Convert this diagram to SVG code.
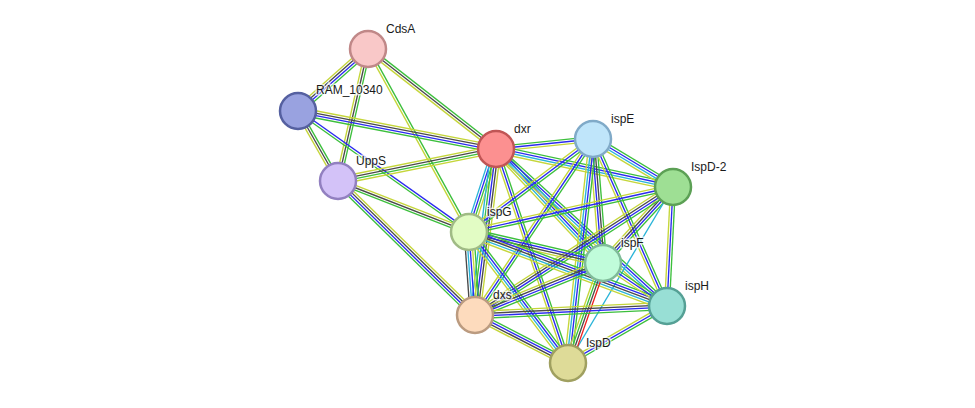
<svg xmlns="http://www.w3.org/2000/svg" width="975" height="408" viewBox="0 0 975 408">
<style>
line{stroke-width:1.35;fill:none}
.g{stroke:#3cbf3c}.y{stroke:#c5d63a}.b{stroke:#2a2af0}.k{stroke:#4a4a4a}.c{stroke:#2ab4d8}.r{stroke:#ee2020}
.node circle{stroke-width:2.5}
.node text{font-family:"Liberation Sans",Arial,sans-serif;font-size:12px;fill:#1a1a1a;stroke:#fff;stroke-width:3;stroke-opacity:0.7;paint-order:stroke}
</style>
<rect width="975" height="408" fill="#fff"/>
<g id="edges">
<g transform="translate(368 49) rotate(138.5)"><line class="g" x2="93.5" y1="-3.6" y2="-3.6"/><line class="b" x2="93.5" y1="-1.2" y2="-1.2"/><line class="k" x2="93.5" y1="1.2" y2="1.2"/><line class="y" x2="93.5" y1="3.6" y2="3.6"/></g>
<g transform="translate(368 49) rotate(102.8)"><line class="g" x2="135.4" y1="-2.4" y2="-2.4"/><line class="k" x2="135.4"/><line class="y" x2="135.4" y1="2.4" y2="2.4"/></g>
<g transform="translate(368 49) rotate(38)"><line class="g" x2="162.4" y1="-2.4" y2="-2.4"/><line class="k" x2="162.4"/><line class="y" x2="162.4" y1="2.4" y2="2.4"/></g>
<g transform="translate(368 49) rotate(61.1)"><line class="g" x2="209" y1="-1.2" y2="-1.2"/><line class="y" x2="209" y1="1.2" y2="1.2"/></g>
<g transform="translate(298 111) rotate(60.3)"><line class="g" x2="80.6" y1="-2.4" y2="-2.4"/><line class="k" x2="80.6"/><line class="y" x2="80.6" y1="2.4" y2="2.4"/></g>
<g transform="translate(298 111) rotate(10.9)"><line class="y" x2="201.6" y1="-3.6" y2="-3.6"/><line class="k" x2="201.6" y1="-1.2" y2="-1.2"/><line class="b" x2="201.6" y1="1.2" y2="1.2"/><line class="g" x2="201.6" y1="3.6" y2="3.6"/></g>
<g transform="translate(298 111) rotate(35.3)"><line class="b" x2="209.5" y1="-1.2" y2="-1.2"/><line class="g" x2="209.5" y1="1.2" y2="1.2"/></g>
<g transform="translate(338 181) rotate(-11.4)"><line class="y" x2="161.2" y1="-3.6" y2="-3.6"/><line class="k" x2="161.2" y1="-1.2" y2="-1.2"/><line class="g" x2="161.2" y1="1.2" y2="1.2"/><line class="y" x2="161.2" y1="3.6" y2="3.6"/></g>
<g transform="translate(338 181) rotate(21.3)"><line class="y" x2="140.6" y1="-2.4" y2="-2.4"/><line class="k" x2="140.6"/><line class="g" x2="140.6" y1="2.4" y2="2.4"/></g>
<g transform="translate(338 181) rotate(44.4)"><line class="y" x2="191.6" y1="-3.6" y2="-3.6"/><line class="k" x2="191.6" y1="-1.2" y2="-1.2"/><line class="b" x2="191.6" y1="1.2" y2="1.2"/><line class="g" x2="191.6" y1="3.6" y2="3.6"/></g>
<g transform="translate(496 149) rotate(-5.9)"><line class="g" x2="97.5" y1="-2.4" y2="-2.4"/><line class="b" x2="97.5"/><line class="y" x2="97.5" y1="2.4" y2="2.4"/></g>
<g transform="translate(496 149) rotate(12.1)"><line class="g" x2="181" y1="-3.6" y2="-3.6"/><line class="b" x2="181" y1="-1.2" y2="-1.2"/><line class="c" x2="181" y1="1.2" y2="1.2"/><line class="y" x2="181" y1="3.6" y2="3.6"/></g>
<g transform="translate(496 149) rotate(108)"><line class="y" x2="87.3" y1="-3.6" y2="-3.6"/><line class="g" x2="87.3" y1="-1.2" y2="-1.2"/><line class="b" x2="87.3" y1="1.2" y2="1.2"/><line class="c" x2="87.3" y1="3.6" y2="3.6"/></g>
<g transform="translate(496 149) rotate(46.8)"><line class="g" x2="156.3" y1="-3.6" y2="-3.6"/><line class="b" x2="156.3" y1="-1.2" y2="-1.2"/><line class="c" x2="156.3" y1="1.2" y2="1.2"/><line class="y" x2="156.3" y1="3.6" y2="3.6"/></g>
<g transform="translate(496 149) rotate(42.6)"><line class="g" x2="232.1" y1="-3.6" y2="-3.6"/><line class="b" x2="232.1" y1="-1.2" y2="-1.2"/><line class="c" x2="232.1" y1="1.2" y2="1.2"/><line class="y" x2="232.1" y1="3.6" y2="3.6"/></g>
<g transform="translate(496 149) rotate(97.2)"><line class="y" x2="167.3" y1="-4.8" y2="-4.8"/><line class="k" x2="167.3" y1="-2.4" y2="-2.4"/><line class="b" x2="167.3"/><line class="g" x2="167.3" y1="2.4" y2="2.4"/><line class="c" x2="167.3" y1="4.8" y2="4.8"/></g>
<g transform="translate(496 149) rotate(71.4)"><line class="g" x2="225.8" y1="-2.4" y2="-2.4"/><line class="b" x2="225.8"/><line class="y" x2="225.8" y1="2.4" y2="2.4"/></g>
<g transform="translate(593 139) rotate(31)"><line class="g" x2="93.3" y1="-3.6" y2="-3.6"/><line class="b" x2="93.3" y1="-1.2" y2="-1.2"/><line class="c" x2="93.3" y1="1.2" y2="1.2"/><line class="y" x2="93.3" y1="3.6" y2="3.6"/></g>
<g transform="translate(593 139) rotate(143.1)"><line class="g" x2="155" y1="-2.4" y2="-2.4"/><line class="b" x2="155"/><line class="y" x2="155" y1="2.4" y2="2.4"/></g>
<g transform="translate(593 139) rotate(85.4)"><line class="g" x2="124.4" y1="-3.6" y2="-3.6"/><line class="k" x2="124.4" y1="-1.2" y2="-1.2"/><line class="b" x2="124.4" y1="1.2" y2="1.2"/><line class="y" x2="124.4" y1="3.6" y2="3.6"/></g>
<g transform="translate(593 139) rotate(66.1)"><line class="g" x2="182.7" y1="-2.4" y2="-2.4"/><line class="b" x2="182.7"/><line class="y" x2="182.7" y1="2.4" y2="2.4"/></g>
<g transform="translate(593 139) rotate(123.8)"><line class="g" x2="211.9" y1="-2.4" y2="-2.4"/><line class="b" x2="211.9"/><line class="y" x2="211.9" y1="2.4" y2="2.4"/></g>
<g transform="translate(593 139) rotate(96.4)"><line class="g" x2="225.4" y1="-3.6" y2="-3.6"/><line class="b" x2="225.4" y1="-1.2" y2="-1.2"/><line class="c" x2="225.4" y1="1.2" y2="1.2"/><line class="y" x2="225.4" y1="3.6" y2="3.6"/></g>
<g transform="translate(673 187) rotate(167.6)"><line class="g" x2="208.9" y1="-2.4" y2="-2.4"/><line class="b" x2="208.9"/><line class="y" x2="208.9" y1="2.4" y2="2.4"/></g>
<g transform="translate(673 187) rotate(132.6)"><line class="g" x2="103.3" y1="-3.6" y2="-3.6"/><line class="b" x2="103.3" y1="-1.2" y2="-1.2"/><line class="k" x2="103.3" y1="1.2" y2="1.2"/><line class="y" x2="103.3" y1="3.6" y2="3.6"/></g>
<g transform="translate(673 187) rotate(92.9)"><line class="g" x2="119.2" y1="-2.4" y2="-2.4"/><line class="b" x2="119.2"/><line class="y" x2="119.2" y1="2.4" y2="2.4"/></g>
<g transform="translate(673 187) rotate(147.1)"><line class="g" x2="235.8" y1="-3.6" y2="-3.6"/><line class="b" x2="235.8" y1="-1.2" y2="-1.2"/><line class="k" x2="235.8" y1="1.2" y2="1.2"/><line class="y" x2="235.8" y1="3.6" y2="3.6"/></g>
<g transform="translate(673 187) rotate(120.8)"><line class="c" x2="204.9"/></g>
<g transform="translate(469 232) rotate(13)"><line class="g" x2="137.5" y1="-3.6" y2="-3.6"/><line class="b" x2="137.5" y1="-1.2" y2="-1.2"/><line class="k" x2="137.5" y1="1.2" y2="1.2"/><line class="y" x2="137.5" y1="3.6" y2="3.6"/></g>
<g transform="translate(469 232) rotate(20.5)"><line class="g" x2="211.4" y1="-4.8" y2="-4.8"/><line class="b" x2="211.4" y1="-2.4" y2="-2.4"/><line class="k" x2="211.4"/><line class="c" x2="211.4" y1="2.4" y2="2.4"/><line class="y" x2="211.4" y1="4.8" y2="4.8"/></g>
<g transform="translate(469 232) rotate(85.9)"><line class="g" x2="83.2" y1="-4.8" y2="-4.8"/><line class="y" x2="83.2" y1="-2.4" y2="-2.4"/><line class="b" x2="83.2"/><line class="c" x2="83.2" y1="2.4" y2="2.4"/><line class="k" x2="83.2" y1="4.8" y2="4.8"/></g>
<g transform="translate(469 232) rotate(52.9)"><line class="g" x2="164.2" y1="-3.6" y2="-3.6"/><line class="b" x2="164.2" y1="-1.2" y2="-1.2"/><line class="c" x2="164.2" y1="1.2" y2="1.2"/><line class="y" x2="164.2" y1="3.6" y2="3.6"/></g>
<g transform="translate(603 263) rotate(33.9)"><line class="g" x2="77.1" y1="-2.4" y2="-2.4"/><line class="b" x2="77.1"/><line class="y" x2="77.1" y1="2.4" y2="2.4"/></g>
<g transform="translate(603 263) rotate(157.9)"><line class="g" x2="138.2" y1="-3.6" y2="-3.6"/><line class="b" x2="138.2" y1="-1.2" y2="-1.2"/><line class="k" x2="138.2" y1="1.2" y2="1.2"/><line class="y" x2="138.2" y1="3.6" y2="3.6"/></g>
<g transform="translate(603 263) rotate(109.3)"><line class="r" x2="105.9" y1="-3.6" y2="-3.6"/><line class="k" x2="105.9" y1="-1.2" y2="-1.2"/><line class="g" x2="105.9" y1="1.2" y2="1.2"/><line class="y" x2="105.9" y1="3.6" y2="3.6"/></g>
<g transform="translate(667 306) rotate(177.3)"><line class="g" x2="192.2" y1="-3.6" y2="-3.6"/><line class="b" x2="192.2" y1="-1.2" y2="-1.2"/><line class="k" x2="192.2" y1="1.2" y2="1.2"/><line class="y" x2="192.2" y1="3.6" y2="3.6"/></g>
<g transform="translate(667 306) rotate(150.1)"><line class="g" x2="114.2" y1="-2.4" y2="-2.4"/><line class="b" x2="114.2"/><line class="y" x2="114.2" y1="2.4" y2="2.4"/></g>
<g transform="translate(475 315) rotate(27.3)"><line class="g" x2="104.7" y1="-3.6" y2="-3.6"/><line class="b" x2="104.7" y1="-1.2" y2="-1.2"/><line class="k" x2="104.7" y1="1.2" y2="1.2"/><line class="y" x2="104.7" y1="3.6" y2="3.6"/></g>
</g>
<g id="CdsA" class="node"><circle cx="368" cy="49" r="18" fill="#f9c8c8" stroke="#c08888"/><text x="386" y="33">CdsA</text></g>
<g id="RAM_10340" class="node"><circle cx="298" cy="111" r="18" fill="#99a2e0" stroke="#5560a0"/><text x="316" y="94">RAM_10340</text></g>
<g id="UppS" class="node"><circle cx="338" cy="181" r="18" fill="#d3c2f8" stroke="#9280c0"/><text x="356" y="165">UppS</text></g>
<g id="dxr" class="node"><circle cx="496" cy="149" r="18" fill="#fc9090" stroke="#c05555"/><text x="514" y="133">dxr</text></g>
<g id="ispE" class="node"><circle cx="593" cy="139" r="18" fill="#bfe5fa" stroke="#80aac8"/><text x="611" y="123">ispE</text></g>
<g id="IspD-2" class="node"><circle cx="673" cy="187" r="18" fill="#9edf94" stroke="#5ca055"/><text x="691" y="171">IspD-2</text></g>
<g id="ispG" class="node"><circle cx="469" cy="232" r="18" fill="#e2fcc4" stroke="#a0bb85"/><text x="487" y="216">ispG</text></g>
<g id="ispF" class="node"><circle cx="603" cy="263" r="18" fill="#c0fcda" stroke="#80bb9a"/><text x="621" y="247">ispF</text></g>
<g id="ispH" class="node"><circle cx="667" cy="306" r="18" fill="#98dfd5" stroke="#55a095"/><text x="685" y="290">ispH</text></g>
<g id="dxs" class="node"><circle cx="475" cy="315" r="18" fill="#fddbbd" stroke="#bb9b80"/><text x="493" y="299">dxs</text></g>
<g id="IspD" class="node"><circle cx="568" cy="363" r="18" fill="#dedb98" stroke="#a0a060"/><text x="586" y="347">IspD</text></g>
</svg>
